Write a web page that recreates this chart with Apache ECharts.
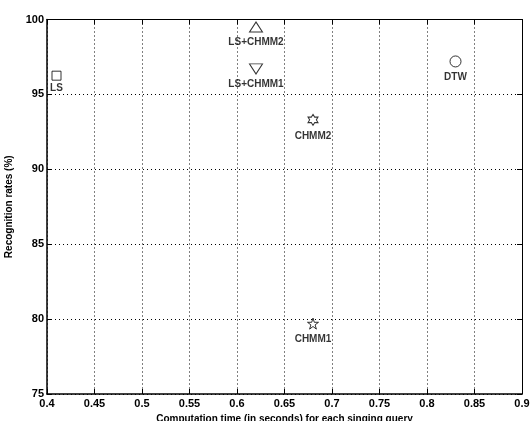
<!DOCTYPE html>
<html>
<head>
<meta charset="utf-8">
<script src="https://cdn.jsdelivr.net/npm/echarts@6/dist/echarts.min.js"></script>
<style>html,body{margin:0;padding:0;background:#fff}#c{width:530px;height:421px}</style>
</head>
<body>
<div id="c"></div>
<script>
// Data
var methods = ['LS', 'LS+CHMM2', 'LS+CHMM1', 'CHMM2', 'DTW', 'CHMM1'];
var compTime = [0.41, 0.62, 0.62, 0.68, 0.83, 0.68];
var recogRate = [96.25, 99.5, 96.7, 93.3, 97.2, 79.7];
var xTicks = [0.4, 0.45, 0.5, 0.55, 0.6, 0.65, 0.7, 0.75, 0.8, 0.85, 0.9];
var yTicks = [75, 80, 85, 90, 95, 100];

var STAR5 = 'path://M50,0 L61.2,34.5 L97.6,34.5 L68.2,55.9 L79.4,90.5 L50,69.1 L20.6,90.5 L31.8,55.9 L2.4,34.5 L38.8,34.5 Z';
var HEX = 'path://M50,0 L64.43,25 L93.3,25 L78.87,50 L93.3,75 L64.43,75 L50,100 L35.57,75 L6.7,75 L21.13,50 L6.7,25 L35.57,25 Z';
var markerStyle = {
  'LS': {symbol: 'rect', size: [9, 9], rotate: 0, gap: 3},
  'LS+CHMM2': {symbol: 'triangle', size: [13, 10], rotate: 0, gap: 5},
  'LS+CHMM1': {symbol: 'triangle', size: [13, 10], rotate: 180, gap: 5},
  'CHMM2': {symbol: HEX, size: [10, 11], rotate: 0, gap: 5},
  'DTW': {symbol: 'circle', size: [11, 11], rotate: 0, gap: 5},
  'CHMM1': {symbol: STAR5, size: [11, 11], rotate: 0, gap: 5}
};

var FONT = 'Liberation Sans';
var series = methods.map(function (m, i) {
  var st = markerStyle[m];
  return {
    type: 'scatter',
    name: m,
    data: [[compTime[i], recogRate[i]]],
    symbol: st.symbol,
    symbolSize: st.size,
    symbolRotate: st.rotate,
    itemStyle: {color: '#fff', borderColor: '#000', borderWidth: 1},
    label: {
      show: true, position: 'bottom', distance: st.gap,
      formatter: m, color: '#000', fontFamily: FONT, fontWeight: 'bold', fontSize: 10
    },
    z: 10
  };
});

var chart = echarts.init(document.getElementById('c'), null, {renderer: 'canvas'});
var axisLine = {show: true, lineStyle: {color: '#000', width: 1.5}};
var tick = {show: true, inside: true, length: 5, lineStyle: {color: '#000', width: 1}};
var splitLine = {show: true, lineStyle: {color: '#000', width: 1, type: [1, 3]}};
var xMin = xTicks[0], xMax = xTicks[xTicks.length - 1];
var yMin = yTicks[0], yMax = yTicks[yTicks.length - 1];
var fmtX = function (v) { return String(+v.toFixed(2)); };

chart.setOption({
  animation: false,
  backgroundColor: '#fff',
  grid: {left: 47, right: 8, top: 19.5, bottom: 27, containLabel: false, outerBoundsMode: 'none'},
  xAxis: [{
    type: 'value', min: xMin, max: xMax, interval: 0.05, position: 'bottom',
    name: 'Computation time (in seconds) for each singing query',
    nameLocation: 'middle', nameGap: 15,
    nameTextStyle: {color: '#000', fontFamily: FONT, fontWeight: 'bold', fontSize: 10},
    axisLine: axisLine, axisTick: tick, splitLine: splitLine,
    axisLabel: {color: '#000', fontFamily: FONT, fontWeight: 'bold', fontSize: 11, margin: 4, formatter: fmtX}
  }, {
    type: 'value', min: xMin, max: xMax, interval: 0.05, position: 'top',
    axisLine: {show: true, lineStyle: {color: '#000', width: 1}}, axisTick: tick,
    splitLine: {show: false}, axisLabel: {show: false}
  }],
  yAxis: [{
    type: 'value', min: yMin, max: yMax, interval: 5, position: 'left',
    name: 'Recognition rates (%)', nameLocation: 'middle', nameGap: 27,
    nameTextStyle: {color: '#000', fontFamily: FONT, fontWeight: 'bold', fontSize: 10},
    axisLine: axisLine, axisTick: tick, splitLine: splitLine,
    axisLabel: {color: '#000', fontFamily: FONT, fontWeight: 'bold', fontSize: 11, margin: 3}
  }, {
    type: 'value', min: yMin, max: yMax, interval: 5, position: 'right',
    axisLine: {show: true, lineStyle: {color: '#000', width: 1}}, axisTick: tick,
    splitLine: {show: false}, axisLabel: {show: false}
  }],
  series: series
});
</script>
</body>
</html>
